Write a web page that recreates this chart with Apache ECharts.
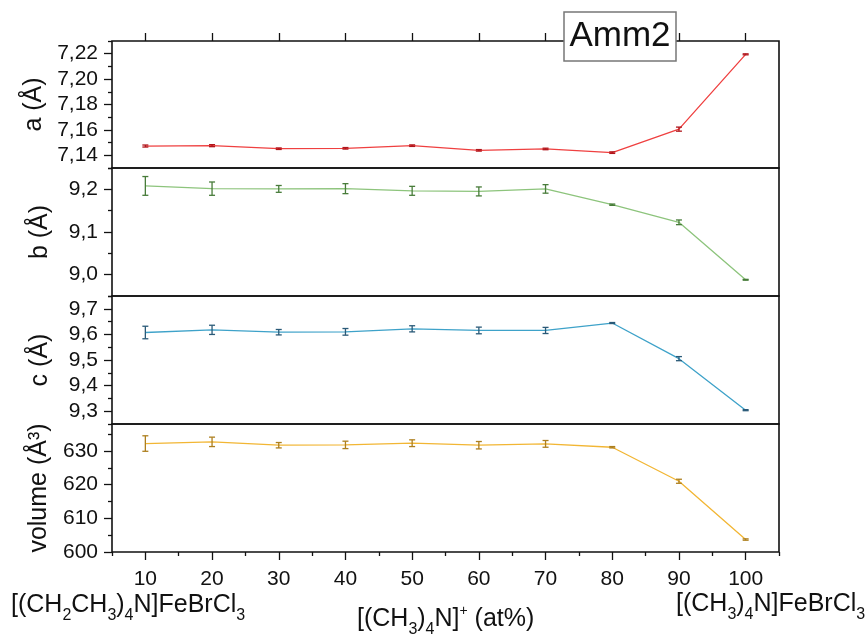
<!DOCTYPE html>
<html>
<head>
<meta charset="utf-8">
<script src="https://cdn.jsdelivr.net/npm/echarts@6/dist/echarts.min.js"></script>
<style>
  html, body { margin: 0; padding: 0; background: #fff; }
  #chart { width: 867px; height: 635px; }
</style>
</head>
<body>
<div id="chart"></div>
<script>
// [(CH3)4N]+ content (at%)
const composition = [10, 20, 30, 40, 50, 60, 70, 80, 90, 100];

// Lattice parameter a (Å)
const aValues = [7.1473, 7.1476, 7.1452, 7.1455, 7.1476, 7.1439, 7.1450, 7.1421, 7.1606, 7.2195];
const aErrors = [0.0008, 0.0008, 0.0006, 0.0006, 0.0006, 0.0006, 0.0006, 0.0006, 0.0016, 0.0004];

// Lattice parameter b (Å)
const bValues = [9.2080, 9.2016, 9.2010, 9.2016, 9.1965, 9.1951, 9.2010, 9.1640, 9.1227, 8.9880];
const bErrors = [0.0220, 0.0156, 0.0080, 0.0117, 0.0105, 0.0105, 0.0100, 0.0015, 0.0055, 0.0010];

// Lattice parameter c (Å)
const cValues = [9.6074, 9.6178, 9.6086, 9.6100, 9.6218, 9.6154, 9.6154, 9.6444, 9.5053, 9.3040];
const cErrors = [0.0245, 0.0180, 0.0106, 0.0130, 0.0120, 0.0130, 0.0120, 0.0020, 0.0080, 0.0020];

// Cell volume (Å³)
const volValues = [632.2, 632.7, 631.7, 631.8, 632.3, 631.7, 632.1, 631.1, 621.0, 603.7];
const volErrors = [2.3, 1.4, 0.8, 1.1, 1.0, 1.1, 1.0, 0.2, 0.6, 0.2];

// Tick values
const xMajorTicks = [10, 20, 30, 40, 50, 60, 70, 80, 90, 100];
const xMinorTicks = [5, 15, 25, 35, 45, 55, 65, 75, 85, 95, 105];
const aMajorTicks = [7.14, 7.16, 7.18, 7.20, 7.22];
const aMinorTicks = [7.13, 7.15, 7.17, 7.19, 7.21, 7.23];
const bMajorTicks = [9.0, 9.1, 9.2];
const bMinorTicks = [8.95, 9.05, 9.15, 9.25];
const cMajorTicks = [9.3, 9.4, 9.5, 9.6, 9.7];
const cMinorTicks = [9.25, 9.35, 9.45, 9.55, 9.65, 9.75];
const volMajorTicks = [600, 610, 620, 630];
const volMinorTicks = [605, 615, 625, 635];

const FONT = "'Liberation Sans', Arial, 'Helvetica', sans-serif";
const INK = '#111';

const panels = [
  { name: 'a (Å)', values: aValues, errors: aErrors, min: 7.13, max: 7.23,
    major: aMajorTicks, minor: aMinorTicks, decimals: 2, line: '#ef4040', bar: '#b0161c',
    top: 41, height: 127 },
  { name: 'b (Å)', values: bValues, errors: bErrors, min: 8.95, max: 9.25,
    major: bMajorTicks, minor: bMinorTicks, decimals: 1, line: '#8dc47c', bar: '#487c3a',
    top: 168, height: 128 },
  { name: 'c (Å)', values: cValues, errors: cErrors, min: 9.25, max: 9.75,
    major: cMajorTicks, minor: cMinorTicks, decimals: 1, line: '#3ea2c9', bar: '#2a5a78',
    top: 296, height: 128 },
  { name: 'volume (Å³)', values: volValues, errors: volErrors, min: 600, max: 638,
    major: volMajorTicks, minor: volMinorTicks, decimals: 0, line: '#f2b634', bar: '#ad7f1e',
    top: 424, height: 128 }
];

function errorBarRenderer(color) {
  return function (params, api) {
    const x = api.value(0), y = api.value(1), e = api.value(2);
    const hi = api.coord([x, y + e]);
    const lo = api.coord([x, y - e]);
    const hw = 3;
    const style = { stroke: color, lineWidth: 1.3 };
    return {
      type: 'group',
      children: [
        { type: 'line', shape: { x1: hi[0], y1: hi[1], x2: lo[0], y2: lo[1] }, style: style },
        { type: 'line', shape: { x1: hi[0] - hw, y1: hi[1], x2: hi[0] + hw, y2: hi[1] }, style: style },
        { type: 'line', shape: { x1: lo[0] - hw, y1: lo[1], x2: lo[0] + hw, y2: lo[1] }, style: style }
      ]
    };
  };
}

const grid = [], xAxis = [], yAxis = [], series = [];

panels.forEach(function (p, i) {
  grid.push({
    left: 112, right: 88, top: p.top, height: p.height,
    show: true, borderColor: INK, borderWidth: 1.6, backgroundColor: 'transparent'
  });

  const isBottom = i === panels.length - 1;
  xAxis.push({
    gridIndex: i, type: 'value', min: 5, max: 105, position: 'bottom',
    axisLine: { show: false, onZero: false },
    axisTick: isBottom
      ? { show: true, inside: false, length: 8, customValues: xMajorTicks, lineStyle: { color: INK, width: 1.3 } }
      : { show: false },
    axisLabel: isBottom
      ? { show: true, customValues: xMajorTicks, fontSize: 21, color: INK, fontFamily: FONT, margin: 17 }
      : { show: false },
    splitLine: { show: false }
  });

  yAxis.push({
    gridIndex: i, type: 'value', min: p.min, max: p.max, position: 'left',
    axisLine: { show: false, onZero: false },
    axisTick: { show: true, inside: false, length: 8, customValues: p.major, lineStyle: { color: INK, width: 1.3 } },
    axisLabel: {
      customValues: p.major, fontSize: 21, color: INK, fontFamily: FONT, margin: 14,
      formatter: (function (d) { return function (v) { return Number(v).toFixed(d).replace('.', ','); }; })(p.decimals)
    },
    splitLine: { show: false },
    name: p.name, nameLocation: 'middle', nameGap: 59,
    nameTextStyle: { fontSize: 25, color: INK, fontFamily: FONT }
  });

  const pts = composition.map(function (x, k) { return [x, p.values[k], p.errors[k]]; });
  series.push({
    type: 'line', xAxisIndex: i, yAxisIndex: i, data: pts.map(function (d) { return [d[0], d[1]]; }),
    symbol: 'none', lineStyle: { color: p.line, width: 1.3 }, silent: true, animation: false, z: 2
  });
  series.push({
    type: 'custom', xAxisIndex: i, yAxisIndex: i, data: pts,
    renderItem: errorBarRenderer(p.bar), silent: true, animation: false, z: 3
  });
});

// Minor y ticks for each panel
panels.forEach(function (p, i) {
  yAxis.push({
    gridIndex: i, type: 'value', min: p.min, max: p.max, position: 'left', offset: 0,
    axisLine: { show: false, onZero: false },
    axisTick: { show: true, inside: false, length: 4, customValues: p.minor, lineStyle: { color: INK, width: 1.3 } },
    axisLabel: { show: false },
    splitLine: { show: false }
  });
});

// Minor x ticks on the bottom panel
xAxis.push({
  gridIndex: 3, type: 'value', min: 5, max: 105, position: 'bottom', offset: 0,
  axisLine: { show: false, onZero: false },
  axisTick: { show: true, inside: false, length: 4, customValues: xMinorTicks, lineStyle: { color: INK, width: 1.3 } },
  axisLabel: { show: false },
  splitLine: { show: false }
});
// Ticks along the top edge of the first panel
xAxis.push({
  gridIndex: 0, type: 'value', min: 5, max: 105, position: 'top', offset: 0,
  axisLine: { show: false, onZero: false },
  axisTick: { show: true, inside: false, length: 8, customValues: xMajorTicks, lineStyle: { color: INK, width: 1.3 } },
  axisLabel: { show: false },
  splitLine: { show: false }
});

const richBase = {
  m: { fontSize: 25, fontFamily: FONT, color: INK, lineHeight: 30, height: 30 },
  s: { fontSize: 16, fontFamily: FONT, color: INK, lineHeight: 30, height: 16, padding: [22, 0, 0, 0] },
  p: { fontSize: 14, fontFamily: FONT, color: INK, lineHeight: 30, height: 14, padding: [0, 0, 16, 0] }
};

function labelText(x, y, text) {
  return {
    type: 'text', x: x, y: y, z: 50,
    style: { text: text, rich: richBase, align: 'left', verticalAlign: 'middle', fill: INK, fontFamily: FONT, fontSize: 25 }
  };
}

const graphic = [
  {
    type: 'rect', z: 100,
    shape: { x: 564, y: 12, width: 112, height: 49 },
    style: { fill: '#fff', stroke: '#777', lineWidth: 1.5 }
  },
  {
    type: 'text', z: 101, x: 620, y: 36.5,
    style: { text: 'Amm2', fontSize: 35, fontFamily: FONT, fill: INK, align: 'center', verticalAlign: 'middle' }
  },
  labelText(11, 605, '{m|[(CH}{s|2}{m|CH}{s|3}{m|)}{s|4}{m|N]FeBrCl}{s|3}'),
  labelText(676, 604, '{m|[(CH}{s|3}{m|)}{s|4}{m|N]FeBrCl}{s|3}'),
  labelText(357, 619, '{m|[(CH}{s|3}{m|)}{s|4}{m|N]}{p|+}{m| (at%)}')
];

const chart = echarts.init(document.getElementById('chart'), null, { renderer: 'canvas' });
chart.setOption({
  backgroundColor: '#fff',
  animation: false,
  grid: grid,
  xAxis: xAxis,
  yAxis: yAxis,
  series: series,
  graphic: graphic
});
</script>
</body>
</html>
